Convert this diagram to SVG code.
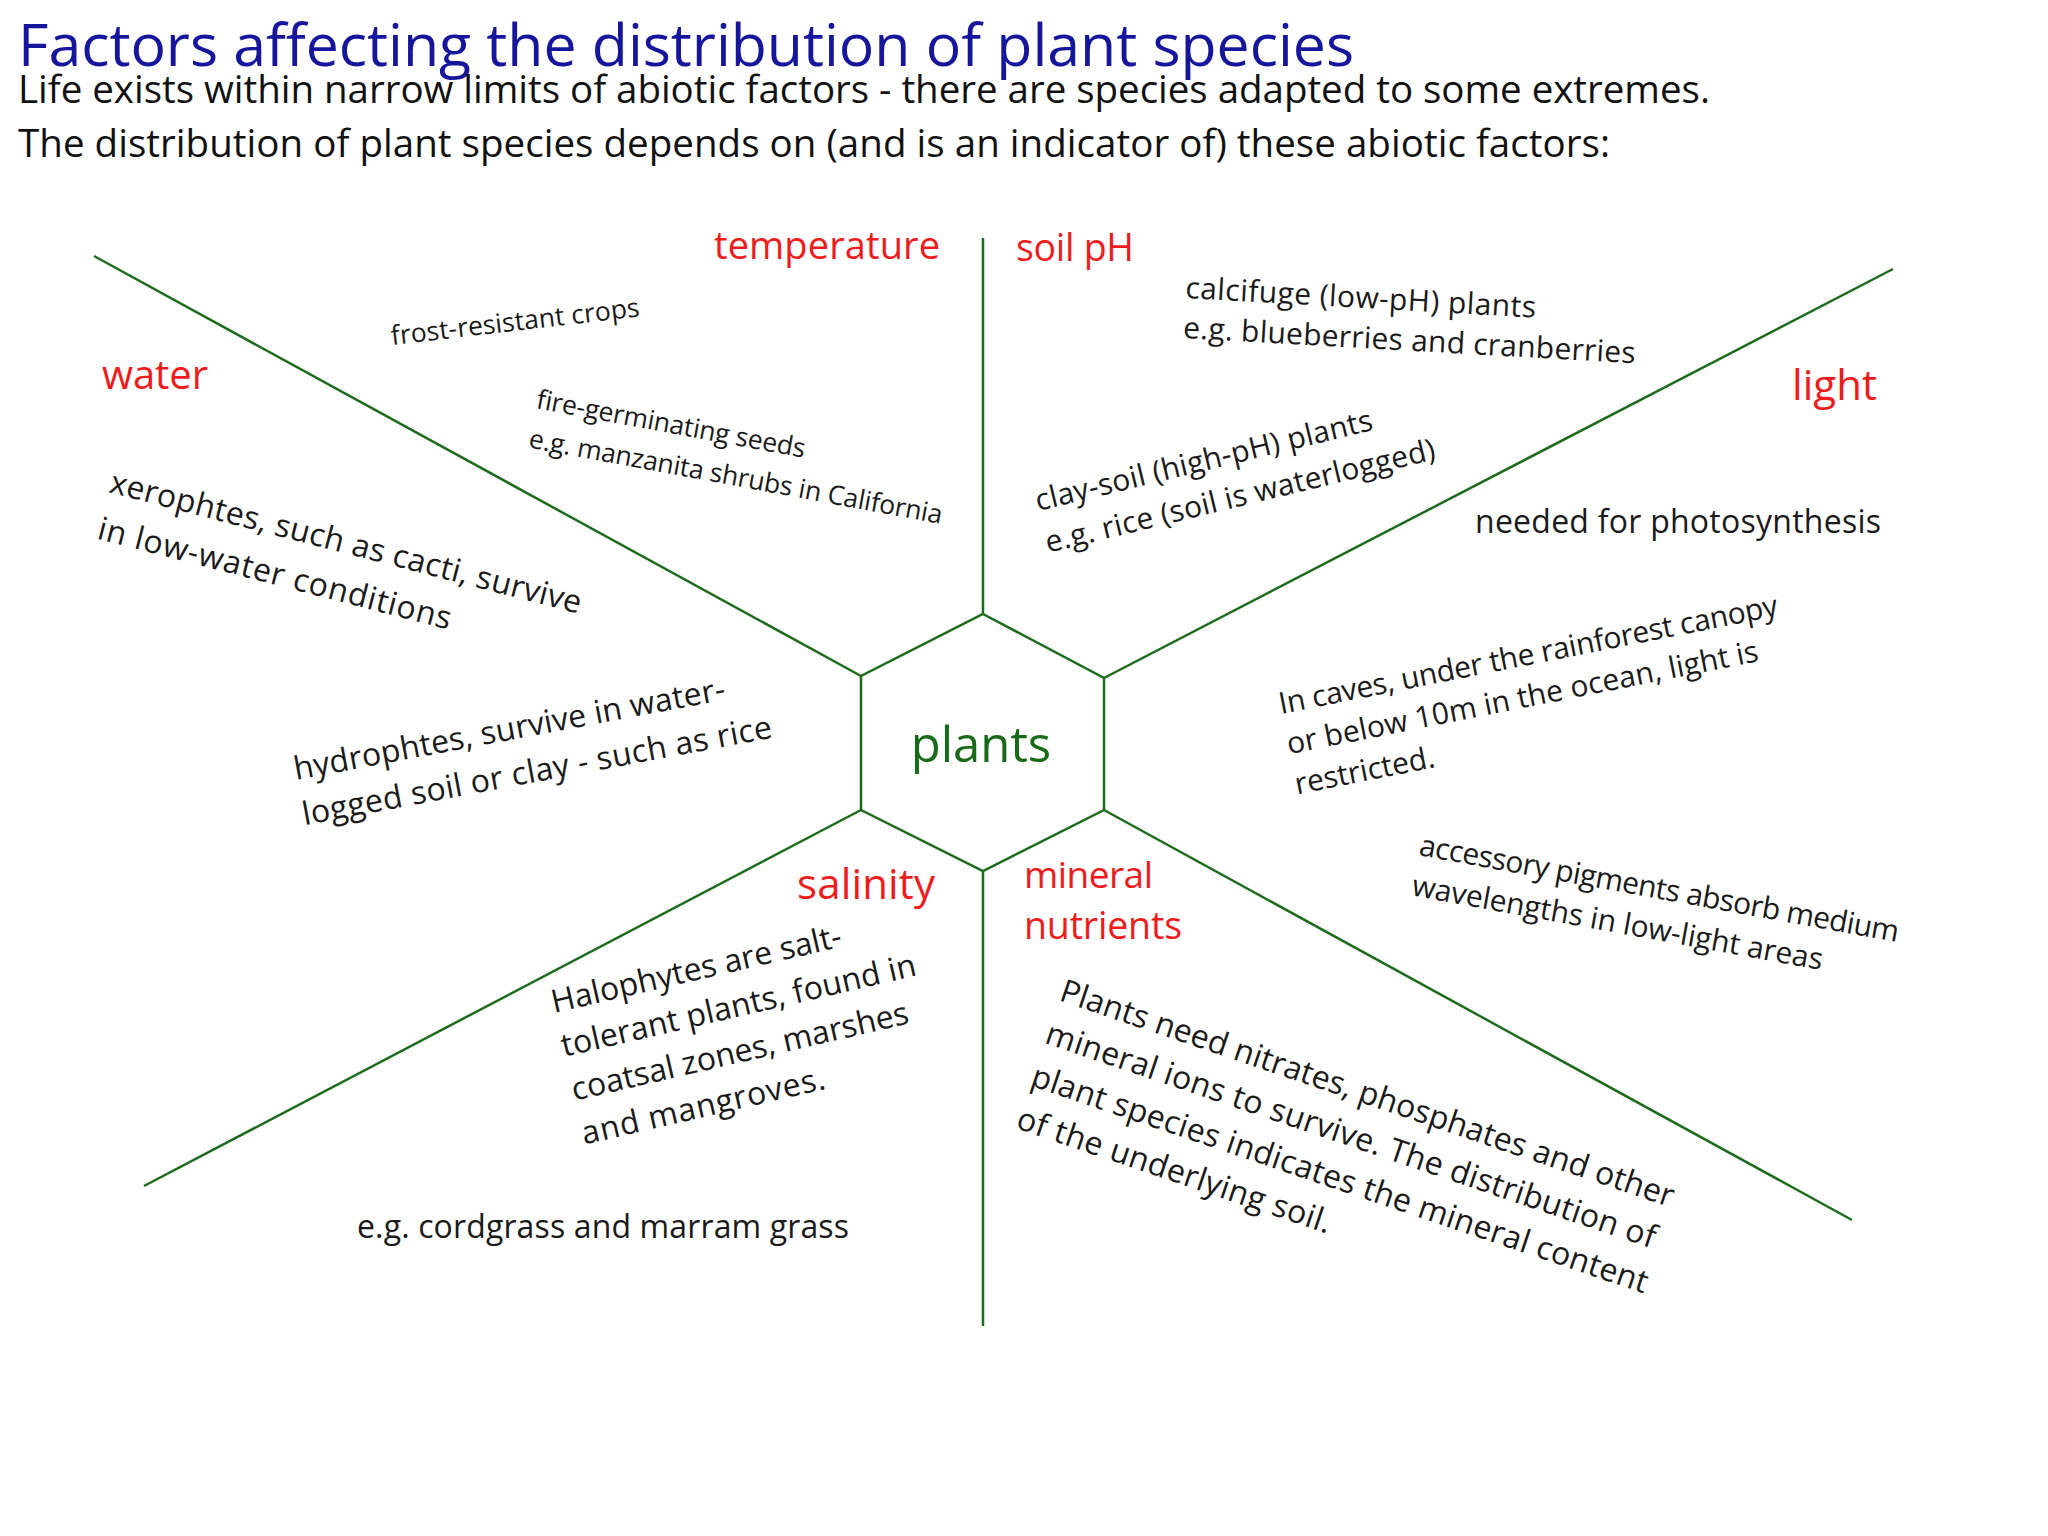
<svg xmlns="http://www.w3.org/2000/svg" width="2048" height="1536" viewBox="0 0 2048 1536">
<style>
text{font-family:"Open Sans","Liberation Sans",sans-serif}
.title{font-size:59px;fill:#16169c}
.sub{font-size:38.5px;fill:#111}
.lbl{font-size:38px;fill:#ee1c1c}
.big{font-size:32px;fill:#1a1a1a}
.mid{font-size:30px;fill:#1a1a1a}
.sm{font-size:26.5px;fill:#1a1a1a}
.ctr{font-size:49px;fill:#186a18}
.ln{stroke:#1e6b1e;stroke-width:2.5;fill:none}
</style>
<rect width="2048" height="1536" fill="#fff"/>
<g id="header">
<text class="title" x="18" y="66" textLength="1336">Factors affecting the distribution of plant species</text>
<text class="sub" x="18" y="103" textLength="1692">Life exists within narrow limits of abiotic factors - there are species adapted to some extremes.</text>
<text class="sub" x="18" y="157" textLength="1592">The distribution of plant species depends on (and is an indicator of) these abiotic factors:</text>
</g>
<g id="connectors">
<line class="ln" x1="983" y1="238" x2="983" y2="614"/>
<line class="ln" x1="94" y1="256" x2="861" y2="676"/>
<line class="ln" x1="1893" y1="269" x2="1104" y2="678"/>
<line class="ln" x1="144" y1="1186" x2="861" y2="810"/>
<line class="ln" x1="1852" y1="1220" x2="1104" y2="810"/>
<line class="ln" x1="983" y1="871" x2="983" y2="1326"/>
</g>
<g id="plants">
<polygon class="ln" points="983,614 1104,678 1104,810 983,871 861,810 861,676"/>
<text class="ctr" x="981" y="762" text-anchor="middle">plants</text>
</g>
<g id="temperature"><text class="lbl" x="714" y="259" textLength="226">temperature</text></g>
<g id="soil-ph"><text class="lbl" x="1016" y="261" style="font-size:37.5px" textLength="118">soil pH</text></g>
<g id="water"><text class="lbl" x="102" y="389" style="font-size:40px" textLength="106">water</text></g>
<g id="light"><text class="lbl" x="1792" y="400" style="font-size:42px" textLength="85">light</text></g>
<g id="salinity"><text class="lbl" x="797" y="899" style="font-size:42px" textLength="138">salinity</text></g>
<g id="mineral-nutrients"><text class="lbl" x="1024" y="888" style="font-size:37px" textLength="129">mineral</text><text class="lbl" x="1024" y="939" style="font-size:37.5px" textLength="158">nutrients</text></g>

<g id="note-frost" transform="translate(392 345) rotate(-6.6)">
<text class="sm" x="0" y="0" textLength="250">frost-resistant crops</text>
</g>
<g id="note-fire" transform="translate(535 408) rotate(10.5)">
<text class="sm" x="0" y="0" textLength="273">fire-germinating seeds</text>
<text class="sm" x="0" y="40" textLength="420">e.g. manzanita shrubs in California</text>
</g>
<g id="note-xerophytes" transform="translate(108 492) rotate(14.5)">
<text class="big" x="0" y="0" textLength="486">xerophtes, such as cacti, survive</text>
<text class="big" x="0" y="48" textLength="364">in low-water conditions</text>
</g>
<g id="note-hydrophytes" transform="translate(296 780) rotate(-10.6)">
<text class="big" x="0" y="0" textLength="438">hydrophtes, survive in water-</text>
<text class="big" x="0" y="46" textLength="477">logged soil or clay - such as rice</text>
</g>
<g id="note-calcifuge" transform="translate(1185 298) rotate(3.2)">
<text class="mid" x="0" y="0" textLength="351">calcifuge (low-pH) plants</text>
<text class="mid" x="0" y="40" textLength="453">e.g. blueberries and cranberries</text>
</g>
<g id="note-clay" transform="translate(1038 511) rotate(-13.6)">
<text class="mid" x="0" y="0" textLength="346">clay-soil (high-pH) plants</text>
<text class="mid" x="0" y="43" textLength="400">e.g. rice (soil is waterlogged)</text>
</g>
<g id="note-photosynthesis">
<text class="big" x="1475" y="533" textLength="406">needed for photosynthesis</text>
</g>
<g id="note-caves" transform="translate(1281 714) rotate(-11.2)">
<text class="mid" x="0" y="0" textLength="508">In caves, under the rainforest canopy</text>
<text class="mid" x="0" y="41" textLength="480">or below 10m in the ocean, light is</text>
<text class="mid" x="0" y="82">restricted.</text>
</g>
<g id="note-pigments" transform="translate(1418 855) rotate(10.3)">
<text class="mid" x="0" y="0" textLength="487">accessory pigments absorb medium</text>
<text class="mid" x="0" y="41" textLength="417">wavelengths in low-light areas</text>
</g>
<g id="note-halophytes" transform="translate(554 1013) rotate(-13)">
<text class="big" x="0" y="0" textLength="297">Halophytes are salt-</text>
<text class="big" x="0" y="45" textLength="363">tolerant plants, found in</text>
<text class="big" x="0" y="90" textLength="345">coatsal zones, marshes</text>
<text class="big" x="0" y="135" textLength="249">and mangroves.</text>
</g>
<g id="note-cordgrass">
<text class="big" x="357" y="1238" textLength="492">e.g. cordgrass and marram grass</text>
</g>
<g id="note-minerals" transform="translate(1058 1000) rotate(18.7)">
<text class="big" x="0" y="0" textLength="646">Plants need nitrates, phosphates and other</text>
<text class="big" x="0" y="45" textLength="642">mineral ions to survive. The distribution of</text>
<text class="big" x="0" y="90" textLength="649">plant species indicates the mineral content</text>
<text class="big" x="0" y="135" textLength="330">of the underlying soil.</text>
</g>
</svg>
